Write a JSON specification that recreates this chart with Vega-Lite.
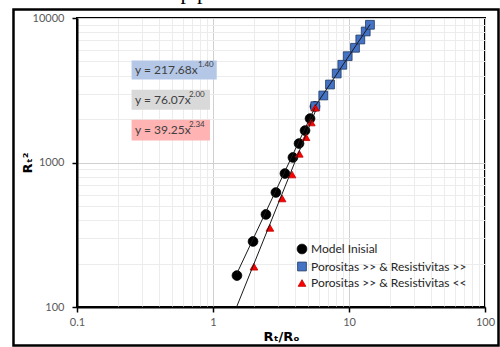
{
  "$schema": "https://vega.github.io/schema/vega-lite/v6.json",
  "width": 408,
  "height": 289,
  "autosize": {"type": "none"},
  "padding": {"left": 77, "top": 18, "right": 15, "bottom": 40},
  "title": {"text": "terhadap perubahan resistivitas", "font": "Liberation Serif", "fontSize": 22, "fontWeight": "normal", "color": "#000000", "anchor": "middle", "frame": "group", "dx": -29, "offset": 4},
  "config": {
    "view": {"stroke": "#000000", "strokeWidth": 2},
    "font": "Lato",
    "legend": {"labelFont": "Lato", "labelFontSize": 12, "labelColor": "#262626", "symbolSize": 60, "rowPadding": 3.5, "symbolStrokeWidth": 0.8, "labelOffset": 3}
  },
  "datasets": {
    "frame": [{"x": 0.03412, "x2": 125.7, "y": 54.15, "y2": 11451}],
    "boxes": [
      {"eq": "blue", "x": 0.252, "x2": 1.065, "y": 3750, "y2": 5080},
      {"eq": "gray", "x": 0.252, "x2": 0.95, "y": 2317, "y2": 3184},
      {"eq": "red", "x": 0.252, "x2": 0.95, "y": 1420, "y2": 1973}
    ],
    "eqs": [
      {"eq": "blue", "label": "y = 217.68x", "sup": "1.40", "x": 0.267, "sx": 0.775, "y": 4365},
      {"eq": "gray", "label": "y = 76.07x", "sup": "2.00", "x": 0.267, "sx": 0.665, "y": 2718},
      {"eq": "red", "label": "y = 39.25x", "sup": "2.34", "x": 0.267, "sx": 0.665, "y": 1673}
    ],
    "points": [
      {"series": "Model Inisial", "x": 1.50, "y": 165},
      {"series": "Model Inisial", "x": 1.97, "y": 284},
      {"series": "Model Inisial", "x": 2.45, "y": 437},
      {"series": "Model Inisial", "x": 2.90, "y": 620},
      {"series": "Model Inisial", "x": 3.38, "y": 839},
      {"series": "Model Inisial", "x": 3.87, "y": 1083},
      {"series": "Model Inisial", "x": 4.29, "y": 1353},
      {"series": "Model Inisial", "x": 4.75, "y": 1663},
      {"series": "Model Inisial", "x": 5.17, "y": 2013},
      {"series": "Model Inisial", "x": 5.62, "y": 2443},
      {"series": "Porositas >> & Resistivitas >>", "x": 5.65, "y": 2452},
      {"series": "Porositas >> & Resistivitas >>", "x": 6.47, "y": 2909},
      {"series": "Porositas >> & Resistivitas >>", "x": 7.25, "y": 3465},
      {"series": "Porositas >> & Resistivitas >>", "x": 8.12, "y": 4130},
      {"series": "Porositas >> & Resistivitas >>", "x": 8.93, "y": 4745},
      {"series": "Porositas >> & Resistivitas >>", "x": 9.78, "y": 5441},
      {"series": "Porositas >> & Resistivitas >>", "x": 11.07, "y": 6220},
      {"series": "Porositas >> & Resistivitas >>", "x": 12.11, "y": 7101},
      {"series": "Porositas >> & Resistivitas >>", "x": 13.27, "y": 8068},
      {"series": "Porositas >> & Resistivitas >>", "x": 14.26, "y": 8974},
      {"series": "Porositas >> & Resistivitas <<", "x": 2.00, "y": 190},
      {"series": "Porositas >> & Resistivitas <<", "x": 2.62, "y": 353},
      {"series": "Porositas >> & Resistivitas <<", "x": 3.22, "y": 564},
      {"series": "Porositas >> & Resistivitas <<", "x": 3.81, "y": 826},
      {"series": "Porositas >> & Resistivitas <<", "x": 4.31, "y": 1149},
      {"series": "Porositas >> & Resistivitas <<", "x": 4.83, "y": 1496},
      {"series": "Porositas >> & Resistivitas <<", "x": 5.28, "y": 1892},
      {"series": "Porositas >> & Resistivitas <<", "x": 5.65, "y": 2394}
    ],
    "trends": [
      {"fit": "circle", "x": 1.5, "y": 171},
      {"fit": "circle", "x": 5.62, "y": 2403},
      {"fit": "square", "x": 5.65, "y": 2458},
      {"fit": "square", "x": 14.3, "y": 9030},
      {"fit": "triangle", "x": 1.491, "y": 100},
      {"fit": "triangle", "x": 5.65, "y": 2257}
    ]
  },
  "layer": [
    {
      "data": {"name": "frame"},
      "mark": {"type": "rect", "fill": null, "stroke": "#000000", "strokeWidth": 2.5, "clip": false},
      "encoding": {
        "x": {"field": "x", "type": "quantitative",
          "scale": {"type": "log", "domain": [0.1, 100], "nice": false},
          "axis": {
            "title": "Rₜ/Rₒ", "titleFont": "DejaVu Sans", "titleFontSize": 13, "titleFontWeight": "bold", "titleColor": "#000000", "titlePadding": 3,
            "values": [0.1,0.2,0.3,0.4,0.5,0.6,0.7,0.8,0.9,1,2,3,4,5,6,7,8,9,10,20,30,40,50,60,70,80,90,100],
            "format": "~g",
            "labelExpr": "abs(log(datum.value)/LN10 - round(log(datum.value)/LN10)) < 0.000001 ? datum.label : ''",
            "labelFont": "Lato", "labelFontSize": 11, "labelColor": "#595959", "labelPadding": 4, "labelFlush": false, "labelOverlap": false,
            "domainColor": "#000000", "domainWidth": 2,
            "tickSize": 5, "tickWidth": 1.5,
            "tickColor": {"condition": {"test": "abs(log(datum.value)/LN10 - round(log(datum.value)/LN10)) < 0.000001", "value": "#000000"}, "value": "transparent"},
            "grid": true,
            "gridColor": {"condition": {"test": "abs(log(datum.value)/LN10 - round(log(datum.value)/LN10)) < 0.000001", "value": "#d0d0d0"}, "value": "#ececec"}
          }},
        "x2": {"field": "x2"},
        "y": {"field": "y", "type": "quantitative",
          "scale": {"type": "log", "domain": [100, 10000], "nice": false},
          "axis": {
            "title": "Rₜ²", "titleFont": "DejaVu Sans", "titleFontSize": 13, "titleFontWeight": "bold", "titleColor": "#000000", "titlePadding": -2,
            "values": [100,200,300,400,500,600,700,800,900,1000,2000,3000,4000,5000,6000,7000,8000,9000,10000],
            "format": "~g",
            "labelExpr": "abs(log(datum.value)/LN10 - round(log(datum.value)/LN10)) < 0.000001 ? datum.label : ''",
            "labelFont": "Lato", "labelFontSize": 11, "labelColor": "#595959", "labelPadding": 8, "labelFlush": false, "labelOverlap": false,
            "domainColor": "#000000", "domainWidth": 2,
            "tickSize": 5, "tickWidth": 1.5,
            "tickColor": {"condition": {"test": "abs(log(datum.value)/LN10 - round(log(datum.value)/LN10)) < 0.000001", "value": "#000000"}, "value": "transparent"},
            "grid": true,
            "gridColor": {"condition": {"test": "abs(log(datum.value)/LN10 - round(log(datum.value)/LN10)) < 0.000001", "value": "#d0d0d0"}, "value": "#ececec"}
          }},
        "y2": {"field": "y2"}
      }
    },
    {
      "data": {"name": "boxes"},
      "mark": {"type": "rect"},
      "encoding": {
        "x": {"field": "x", "type": "quantitative"},
        "x2": {"field": "x2"},
        "y": {"field": "y", "type": "quantitative"},
        "y2": {"field": "y2"},
        "fill": {"field": "eq", "type": "nominal", "legend": null,
          "scale": {"domain": ["blue", "gray", "red"], "range": ["#b4c7e7", "#d9d9d9", "#ffb3b3"]}}
      }
    },
    {
      "data": {"name": "eqs"},
      "mark": {"type": "text", "align": "left", "baseline": "middle", "font": "Lato", "fontSize": 12, "color": "#404040"},
      "encoding": {
        "x": {"field": "x", "type": "quantitative"},
        "y": {"field": "y", "type": "quantitative"},
        "text": {"field": "label"}
      }
    },
    {
      "data": {"name": "eqs"},
      "mark": {"type": "text", "align": "left", "baseline": "middle", "font": "Lato", "fontSize": 8, "color": "#404040", "dy": -5},
      "encoding": {
        "x": {"field": "sx", "type": "quantitative"},
        "y": {"field": "y", "type": "quantitative"},
        "text": {"field": "sup"}
      }
    },
    {
      "data": {"name": "points"},
      "mark": {"type": "point", "filled": true, "opacity": 1, "strokeWidth": 0.8},
      "encoding": {
        "x": {"field": "x", "type": "quantitative"},
        "y": {"field": "y", "type": "quantitative"},
        "color": {"field": "series", "type": "nominal", "title": null,
          "scale": {"domain": ["Model Inisial", "Porositas >> & Resistivitas >>", "Porositas >> & Resistivitas <<"], "range": ["#000000", "#4472c4", "#ff0000"]},
          "legend": {"orient": "bottom-right", "offset": 18, "title": null}},
        "shape": {"field": "series", "type": "nominal", "title": null,
          "scale": {"domain": ["Model Inisial", "Porositas >> & Resistivitas >>", "Porositas >> & Resistivitas <<"], "range": ["circle", "square", "triangle-up"]},
          "legend": {"orient": "bottom-right", "offset": 18, "title": null}},
        "stroke": {"field": "series", "type": "nominal", "title": null,
          "scale": {"domain": ["Model Inisial", "Porositas >> & Resistivitas >>", "Porositas >> & Resistivitas <<"], "range": ["#000000", "#1f3864", "#c00000"]},
          "legend": {"orient": "bottom-right", "offset": 18, "title": null}},
        "size": {"field": "series", "type": "nominal", "legend": null,
          "scale": {"domain": ["Model Inisial", "Porositas >> & Resistivitas >>", "Porositas >> & Resistivitas <<"], "range": [95, 60, 100]}}
      }
    },
    {
      "data": {"name": "trends"},
      "mark": {"type": "line", "strokeWidth": 1, "color": "#1a1a1a"},
      "encoding": {
        "x": {"field": "x", "type": "quantitative"},
        "y": {"field": "y", "type": "quantitative"},
        "detail": {"field": "fit", "type": "nominal"}
      }
    }
  ]
}
